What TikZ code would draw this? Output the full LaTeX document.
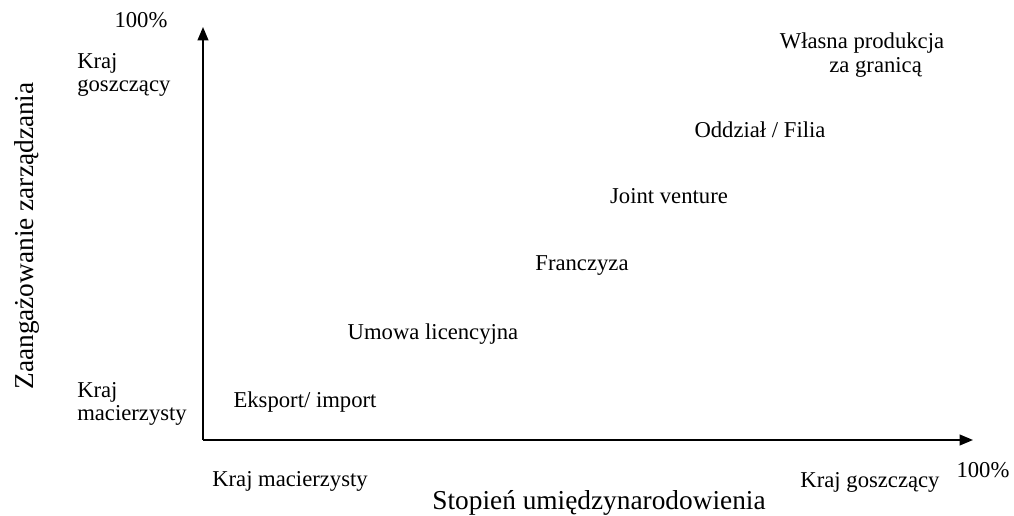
\documentclass[tikz,border=0pt]{standalone}
\usepackage{fontspec}
\setmainfont{Liberation Serif}
\usetikzlibrary{arrows.meta}
\begin{document}
\begin{tikzpicture}[x=0.75pt,y=-0.75pt,
  axis/.style={line width=1.5pt,-{Triangle[length=10pt,width=8pt]}},
  lbl/.style={inner sep=0pt,font=\fontsize{17pt}{17.8pt}\selectfont},
  ttl/.style={inner sep=0pt,font=\fontsize{20.5pt}{22pt}\selectfont}]
\useasboundingbox (0,0) rectangle (1014,516);
% axes
\coordinate (o) at (203,440);
\coordinate (ytop) at (203,27);
\coordinate (xend) at (973,440);
\draw[axis] (o) -- (ytop);
\draw[axis] (o) -- (xend);
% vertical axis labels
\node[lbl] (ypct) at (141,20) {100\%};
\node[lbl,anchor=west,align=left] (yhost) at (77,75) {Kraj\\goszczący};
\node[lbl,anchor=west,align=left] (yhome) at (77,404) {Kraj\\macierzysty};
\node[ttl,rotate=90] (ytitle) at (27,236) {Zaangażowanie zarządzania};
% horizontal axis labels
\node[lbl] (xhome) at (290,481) {Kraj macierzysty};
\node[lbl] (xhost) at (870,482) {Kraj goszczący};
\node[lbl] (xpct) at (983,470) {100\%};
\node[ttl] (xtitle) at (599,503) {Stopień umiędzynarodowienia};
% forms of market entry
\node[lbl] (exp) at (305,402) {Eksport/ import};
\node[lbl] (lic) at (433,334) {Umowa licencyjna};
\node[lbl] (fra) at (582,266) {Franczyza};
\node[lbl] (jv) at (669,196) {Joint venture};
\node[lbl] (fil) at (760,130) {Oddział / Filia};
\node[lbl,align=center] (own) at (862,55) {Własna produkcja\\\hspace*{1.2em}za granicą};
\end{tikzpicture}
\end{document}
